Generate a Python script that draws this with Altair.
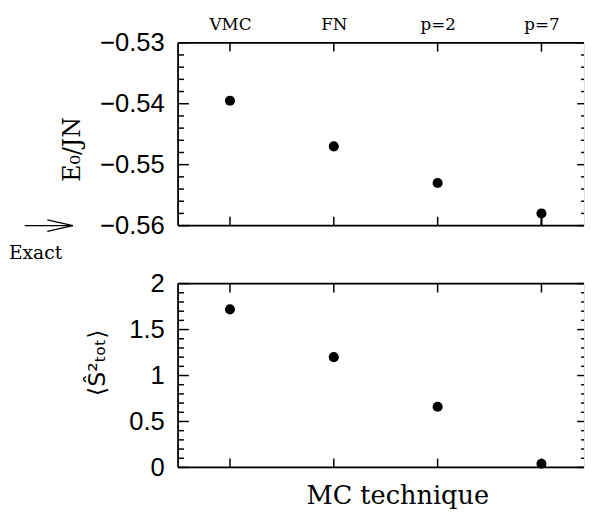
import altair as alt
import pandas as pd

# ---- data ----
methods = ["VMC", "FN", "p=2", "p=7"]
method_x = [1, 2, 3, 4]
energy = [-0.5395, -0.5470, -0.5530, -0.5580]
energy_err_lo = [-0.5395, -0.5470, -0.5530, -0.5600]
spin = [1.72, 1.20, 0.66, 0.04]

exact_energy = -0.56
exact_label = "Exact"

x_domain = [0.5, 4.41]
e_domain = [-0.56, -0.53]
s_domain = [0.0, 2.0]
e_major = [-0.56, -0.55, -0.54, -0.53]
e_minor = [-0.558, -0.556, -0.554, -0.552, -0.548, -0.546, -0.544, -0.542,
           -0.538, -0.536, -0.534, -0.532]
s_major = [0.0, 0.5, 1.0, 1.5, 2.0]
s_minor = [0.1, 0.2, 0.3, 0.4, 0.6, 0.7, 0.8, 0.9, 1.1, 1.2, 1.3, 1.4,
           1.6, 1.7, 1.8, 1.9]

# ---- style ----
W = 413
H_TOP = 186
H_BOT = 187
MAJ, MIN = 11, 6
RMAJ, RMIN = 7, 3
LW = 1.8
SERIF = "DejaVu Serif"
SANS = "Liberation Sans"

xs = alt.Scale(domain=x_domain, nice=False, zero=False)
label_expr = "[" + ",".join("'%s'" % m for m in methods) + "][datum.value - 1]"


def frame_and_ticks(X, Y, yfield, y_major, y_minor, H):
    layers = []
    xt = pd.DataFrame({"x": method_x})
    ymaj = pd.DataFrame({yfield: y_major})
    ymin = pd.DataFrame({yfield: y_minor})
    base = alt.Chart(pd.DataFrame({"a": [0]}))
    # frame: left, top, bottom
    layers.append(base.mark_rule(color="black", strokeWidth=LW).encode(
        x=alt.value(0), y=alt.value(0), y2=alt.value(H)))
    layers.append(base.mark_rule(color="black", strokeWidth=LW).encode(
        x=alt.value(0), x2=alt.value(W), y=alt.value(0)))
    layers.append(base.mark_rule(color="black", strokeWidth=LW).encode(
        x=alt.value(0), x2=alt.value(W), y=alt.value(H)))
    # x ticks (top and bottom, inward)
    layers.append(alt.Chart(xt).mark_rule(color="black", strokeWidth=1.5).encode(
        x=X, y=alt.value(0), y2=alt.value(MAJ - 2)))
    layers.append(alt.Chart(xt).mark_rule(color="black", strokeWidth=1.5).encode(
        x=X, y=alt.value(H - MAJ + 2), y2=alt.value(H)))
    # y ticks left
    layers.append(alt.Chart(ymaj).mark_rule(color="black", strokeWidth=1.5).encode(
        y=Y, x=alt.value(0), x2=alt.value(MAJ)))
    layers.append(alt.Chart(ymin).mark_rule(color="black", strokeWidth=1.5).encode(
        y=Y, x=alt.value(0), x2=alt.value(MIN)))
    # y ticks right
    layers.append(alt.Chart(ymaj).mark_rule(color="black", strokeWidth=1.5).encode(
        y=Y, x=alt.value(W - RMAJ), x2=alt.value(W)))
    layers.append(alt.Chart(ymin).mark_rule(color="black", strokeWidth=1.5).encode(
        y=Y, x=alt.value(W - RMIN), x2=alt.value(W)))
    return layers


# ---- top panel ----
es = alt.Scale(domain=e_domain, nice=False, zero=False)
X_top = alt.X("x:Q", scale=xs, axis=alt.Axis(
    orient="top", values=method_x, labelExpr=label_expr, ticks=False,
    domain=False, grid=False, labelFont=SERIF, labelFontSize=17,
    labelPadding=9, labelColor="black", labelFlush=False, title=""))
Y_top = alt.Y("E:Q", scale=es, axis=alt.Axis(
    values=e_major, format=".2f", ticks=False, domain=False, grid=False,
    labelFont=SANS, labelFontSize=26, labelPadding=14, labelColor="black",
    labelFlush=False, title="E₀/JN", titleFont=SERIF, titleFontSize=24,
    titleFontWeight="normal", titlePadding=15, titleColor="black",
    titleY=108))

top_df = pd.DataFrame({"x": method_x, "method": methods, "E": energy,
                       "Elo": energy_err_lo})
top_points = alt.Chart(top_df).mark_circle(size=105, color="black", opacity=1).encode(
    x=X_top, y=Y_top)
top_err = alt.Chart(top_df).mark_rule(color="black", strokeWidth=2).encode(
    x=X_top, y=Y_top, y2="Elo:Q")

exact_df = pd.DataFrame({"E": [exact_energy], "label": [exact_label]})
arrow_shaft = alt.Chart(exact_df).mark_rule(color="black", strokeWidth=1.5).encode(
    x=alt.value(-156), x2=alt.value(-107), y=Y_top)
arrow_head = alt.Chart(exact_df).mark_point(
    shape="M-1,-0.45L1,0L-1,0.45", filled=False, size=676, strokeWidth=1.5,
    color="black", opacity=1).encode(x=alt.value(-120), y=Y_top)
exact_text = alt.Chart(exact_df).mark_text(
    font=SERIF, fontSize=19, align="left", baseline="alphabetic", color="black").encode(
    x=alt.value(-172), y=alt.value(220), text="label:N")

top = alt.layer(
    *frame_and_ticks(X_top, Y_top, "E", e_major, e_minor, H_TOP),
    top_err, top_points, arrow_shaft, arrow_head, exact_text,
).properties(width=W, height=H_TOP)

# ---- bottom panel ----
ss = alt.Scale(domain=s_domain, nice=False, zero=False)
X_bot = alt.X("x:Q", scale=xs, axis=alt.Axis(
    orient="bottom", values=method_x, labels=False, ticks=False,
    domain=False, grid=False, title="MC technique", titleFont=SERIF,
    titleFontSize=26, titleFontWeight="normal", titlePadding=16,
    titleColor="black", titleX=223))
Y_bot = alt.Y("S:Q", scale=ss, axis=alt.Axis(
    values=s_major, format=".1~f", ticks=False, domain=False, grid=False,
    labelFont=SANS, labelFontSize=26, labelPadding=14, labelColor="black",
    labelFlush=False, title="⟨Ŝ²ₜₒₜ⟩", titleFont="DejaVu Sans",
    titleFontSize=24, titleFontWeight="normal", titlePadding=20,
    titleColor="black", titleY=80))

bot_df = pd.DataFrame({"x": method_x, "method": methods, "S": spin})
bot_points = alt.Chart(bot_df).mark_circle(size=105, color="black", opacity=1).encode(
    x=X_bot, y=Y_bot)

bottom = alt.layer(
    *frame_and_ticks(X_bot, Y_bot, "S", s_major, s_minor, H_BOT),
    bot_points,
).properties(width=W, height=H_BOT)

chart = alt.vconcat(top, bottom, spacing=59, bounds="flush").resolve_scale(
    x="independent", y="independent"
).properties(
    padding={"left": 0, "top": 3, "right": 0, "bottom": 0}
).configure_view(strokeWidth=0).configure(background="white")

chart.save("out.html", embed_options={"renderer": "svg", "actions": False})
